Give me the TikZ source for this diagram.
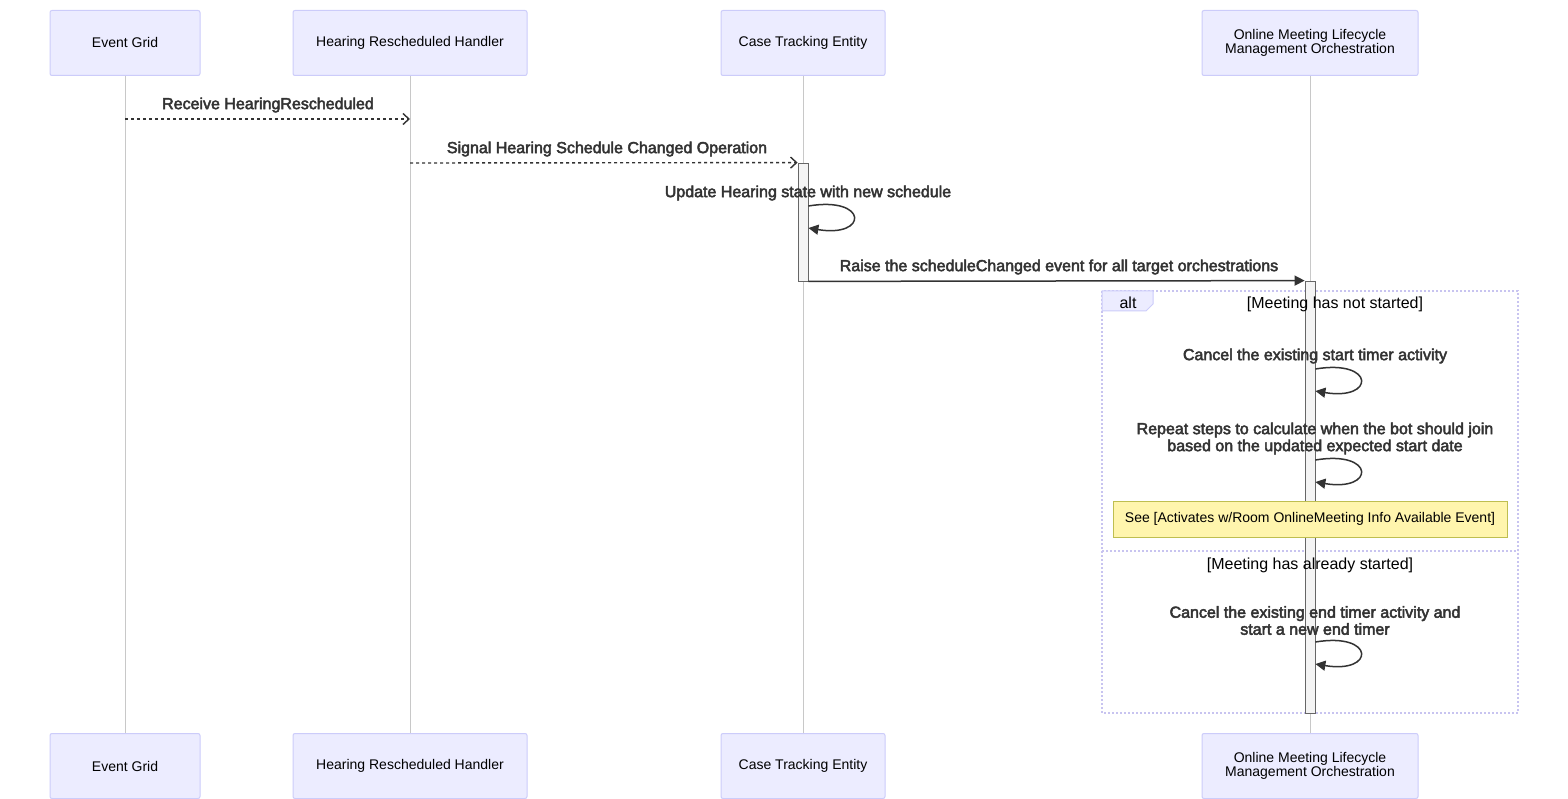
\documentclass[tikz,border=0pt]{standalone}
\usepackage{fontspec}
\setmainfont{Liberation Sans}
\newfontfamily\msgfont[FakeBold=3]{Liberation Sans}
\usepackage{xcolor}
\usepackage{tikz}
\usetikzlibrary{arrows.meta, positioning, calc}
\definecolor{SDActorFill}{RGB}{236, 236, 255}
\definecolor{SDActorBorder}{RGB}{204, 204, 250}
\definecolor{SDLifeline}{RGB}{200, 200, 200}
\definecolor{SDActFill}{RGB}{244, 244, 244}
\definecolor{SDActBorder}{RGB}{102, 102, 102}
\definecolor{SDMsg}{RGB}{51, 51, 51}
\definecolor{SDNoteFill}{RGB}{255, 245, 173}
\definecolor{SDNoteBorder}{RGB}{190, 190, 80}
\definecolor{SDFrame}{RGB}{200, 196, 240}

\begin{document}
\begin{tikzpicture}[x=1pt, y=-1pt,
    actor/.style={rounded corners=2pt, fill=SDActorFill, draw=SDActorBorder, line width=1pt,
          minimum height=65pt, align=center, inner sep=0pt, font=\fontsize{14}{14}\selectfont},
    lifeline/.style={draw=SDLifeline, line width=1pt},
    activation/.style={fill=SDActFill, draw=SDActBorder, line width=0.8pt, minimum width=10pt, inner sep=0pt},
    msglabel/.style={font=\msgfont\fontsize{16}{17}\selectfont, text=SDMsg, align=center},
    condlabel/.style={font=\fontsize{16}{17}\selectfont, text=black},
    replymsg/.style={draw=SDMsg, line width=1.4pt, dash pattern=on 3pt off 3pt, -{Straight Barb[length=6pt, width=11pt]}},
    callmsg/.style={draw=SDMsg, line width=1.5pt, -{Triangle[length=10pt, width=10pt]}},
    altframe/.style={draw=SDFrame, line width=1.5pt, dash pattern=on 2pt off 2pt}]
    \useasboundingbox (0,0) rectangle (1568,799);

    % actors
    \node[actor, minimum width=150pt] (egTop) at (125,43) {Event Grid};
    \node[actor, minimum width=234pt] (hrhTop) at (410,43) {Hearing Rescheduled Handler};
    \node[actor, minimum width=164pt] (cteTop) at (803,43) {Case Tracking Entity};
    \node[actor, minimum width=216pt] (omlTop) at (1310,43) {Online Meeting Lifecycle\\Management Orchestration};
    \node[actor, minimum width=150pt] (egBot) at (125,766) {Event Grid};
    \node[actor, minimum width=234pt] (hrhBot) at (410,766) {Hearing Rescheduled Handler};
    \node[actor, minimum width=164pt] (cteBot) at (803,766) {Case Tracking Entity};
    \node[actor, minimum width=216pt] (omlBot) at (1310,766) {Online Meeting Lifecycle\\Management Orchestration};

    \draw[lifeline] (egTop) -- (egBot);
    \draw[lifeline] (hrhTop) -- (hrhBot);
    \draw[lifeline] (cteTop) -- (cteBot);
    \draw[lifeline] (omlTop) -- (omlBot);

    % alt block
    \draw[altframe] (1102,291) rectangle (1518,713);
    \draw[altframe] (1102,551) -- (1518,551);
    \draw[fill=SDActorFill, draw=SDActorBorder, line width=1pt] (1102,291) -- (1153,291) -- (1153,304) -- (1146,311) -- (1102,311) -- cycle;
    \node[condlabel] (altTag) at (1128,303) {alt};

    % activations
    \node[activation, minimum height=118pt] (cteAct) at (803,222) {};
    \node[activation, minimum height=432pt] (omlAct) at (1310,497) {};

    % messages
    \draw[replymsg] (egTop.south |- 0,119) -- (hrhTop.south |- 0,119);
    \node[msglabel] (lblReceive) at (268,105) {Receive HearingRescheduled};

    \draw[replymsg] (hrhTop.south |- 0,163) -- (cteAct.north west);
    \node[msglabel] (lblSignal) at (607,149) {Signal Hearing Schedule Changed Operation};

    \draw[callmsg] (cteAct.east |- 0,206) .. controls +(60,-10) and +(60,10) .. (cteAct.east |- 0,228);
    \node[msglabel] (lblUpdate) at (808,193) {Update Hearing state with new schedule};

    \draw[callmsg] (cteAct.south east) -- (omlAct.north west);
    \node[msglabel] (lblRaise) at (1059,267) {Raise the scheduleChanged event for all target orchestrations};

    \node[condlabel] (condNotStarted) at (1335,304) {[Meeting has not started]};

    \draw[callmsg] (omlAct.east |- 0,369) .. controls +(60,-10) and +(60,10) .. (omlAct.east |- 0,391);
    \node[msglabel] (lblCancelStart) at (1315,356) {Cancel the existing start timer activity};

    \draw[callmsg] (omlAct.east |- 0,460) .. controls +(60,-10) and +(60,10) .. (omlAct.east |- 0,482);
    \node[msglabel] (lblRepeat) at (1315,438.5) {Repeat steps to calculate when the bot should join\\based on the updated expected start date};

    \node[fill=SDNoteFill, draw=SDNoteBorder, line width=1pt, minimum width=394pt, minimum height=36pt,
          font=\fontsize{14}{14}\selectfont] (seeNote) at (1310,519) {See [Activates w/Room OnlineMeeting Info Available Event]};

    \node[condlabel] (condStarted) at (1310,565) {[Meeting has already started]};

    \draw[callmsg] (omlAct.east |- 0,642) .. controls +(60,-10) and +(60,10) .. (omlAct.east |- 0,664);
    \node[msglabel] (lblCancelEnd) at (1315,620.5) {Cancel the existing end timer activity and\\start a new end timer};
  \end{tikzpicture}
\end{document}
